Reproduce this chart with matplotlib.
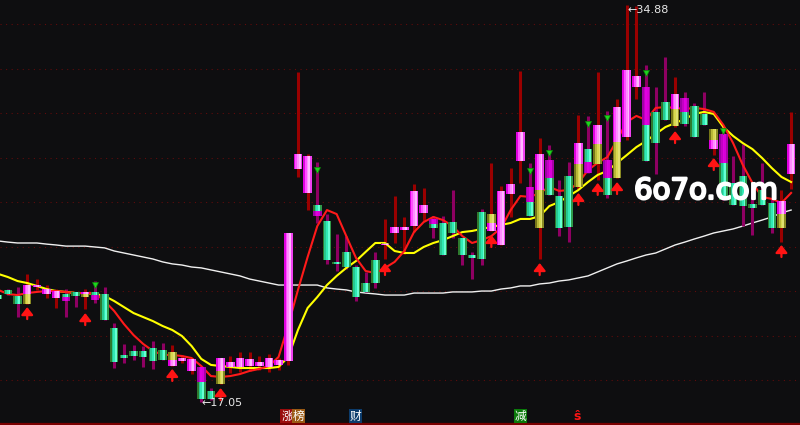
import numpy as np
import matplotlib
matplotlib.use('Agg')
import matplotlib.pyplot as plt
import matplotlib.patheffects as pe
from matplotlib.patches import Rectangle
from matplotlib.collections import PatchCollection

BG = '#0e0e10'
nan = np.nan

# daily bars (price)
opens = [21.84, 22.07, 21.80, 21.44, 22.20, 21.89, 21.71, 21.89, 21.98, 21.75,
         21.98, 21.89, 20.36, 19.15, 19.33, 19.33, 19.46, 19.37, 18.65, 18.88,
         18.43, 18.61, 17.53, 17.84, 18.61, 18.61, 18.65, 18.65, 18.61, 18.70,
         18.88, 27.51, 26.43, 25.89, 25.17, 23.33, 23.78, 23.10, 22.38, 23.42,
         24.09, 24.63, 24.76, 24.94, 25.53, 25.26, 25.08, 25.12, 24.40, 23.64,
         25.57, 24.72, 24.09, 26.38, 27.87, 26.70, 24.85, 27.91, 26.29, 27.19,
         26.70, 28.40, 27.73, 27.91, 27.10, 28.94, 31.19, 31.19, 30.07, 30.52,
         29.44, 30.70, 30.34, 29.98, 28.40, 29.08, 26.88, 27.19, 25.93, 26.56,
         25.98, 24.85, 27.28]
closes = [21.66, 21.89, 21.44, 22.29, 22.29, 22.11, 22.02, 21.57, 21.80, 21.98,
          21.62, 20.72, 18.83, 19.01, 19.10, 19.06, 18.88, 18.92, 19.28, 19.01,
          18.97, 17.17, 17.17, 19.01, 18.83, 19.01, 18.97, 18.83, 19.01, 18.92,
          24.63, 28.18, 28.09, 25.39, 23.42, 23.24, 23.10, 21.75, 21.98, 22.38,
          24.18, 24.90, 24.90, 26.52, 25.89, 24.85, 23.64, 24.63, 23.64, 23.51,
          23.46, 25.48, 26.52, 26.83, 29.17, 25.39, 28.18, 26.34, 24.85, 24.90,
          28.67, 27.33, 29.48, 26.34, 30.29, 31.96, 31.69, 27.87, 28.67, 29.71,
          30.88, 29.53, 28.94, 29.48, 29.30, 26.11, 25.89, 25.84, 25.75, 25.89,
          24.85, 26.07, 28.63]
highs = [21.90, 22.11, 22.20, 22.79, 22.56, 22.29, 22.11, 22.11, 21.98, 22.11,
         22.47, 22.20, 20.58, 19.64, 19.60, 19.55, 19.78, 19.69, 19.60, 19.15,
         18.97, 18.61, 17.66, 19.01, 19.10, 19.28, 19.28, 19.10, 19.19, 19.01,
         24.63, 31.87, 28.18, 27.82, 25.48, 24.58, 24.49, 23.19, 22.88, 23.78,
         25.26, 26.29, 25.35, 26.83, 26.65, 25.39, 25.39, 26.56, 24.40, 23.78,
         25.71, 27.78, 26.74, 27.55, 31.91, 27.78, 28.90, 28.58, 27.01, 27.82,
         29.93, 29.89, 31.87, 30.11, 30.65, 34.88, 34.83, 32.18, 31.19, 32.54,
         31.64, 30.97, 30.47, 30.97, 29.30, 29.44, 28.09, 28.63, 26.65, 27.78,
         26.20, 26.56, 30.07]
lows = [21.60, 21.84, 20.85, 21.44, 22.07, 21.71, 21.26, 20.85, 21.30, 21.21,
        21.48, 20.72, 18.56, 18.79, 18.92, 18.61, 18.52, 18.92, 18.65, 18.79,
        18.29, 17.05, 17.12, 17.84, 18.34, 18.38, 18.43, 18.47, 18.38, 18.47,
        18.70, 27.15, 25.66, 25.08, 23.24, 22.92, 23.01, 21.57, 21.98, 22.16,
        23.46, 24.18, 23.69, 24.67, 25.17, 24.40, 23.64, 24.40, 23.19, 22.56,
        23.19, 24.72, 24.09, 25.35, 26.88, 25.39, 23.46, 26.34, 24.49, 24.22,
        26.61, 27.33, 27.01, 26.20, 27.10, 28.81, 30.65, 27.87, 27.28, 29.71,
        29.39, 29.44, 28.94, 29.48, 28.13, 26.11, 25.89, 24.94, 24.54, 25.89,
        24.63, 24.22, 26.61]
# where the two-colour bodies change colour
splits = [nan, nan, nan, 21.89, nan, nan, nan, 21.75, nan, 21.89,
          21.84, nan, nan, nan, nan, nan, nan, nan, 18.92, nan,
          nan, 17.93, nan, 18.43, nan, nan, nan, nan, nan, nan,
          nan, nan, nan, 25.62, nan, nan, nan, nan, nan, nan,
          24.13, nan, nan, nan, nan, 25.03, nan, nan, nan, nan,
          nan, 25.08, nan, nan, nan, 26.02, 26.56, 27.10, nan, nan,
          27.73, 27.82, 28.63, 27.10, 28.72, nan, nan, 29.48, nan, nan,
          30.20, 30.07, nan, nan, 28.81, 27.78, nan, nan, nan, nan,
          nan, 25.48, nan]
# body colours, top part first
kinds = ['c', 'c', 'c', 'py', 'p', 'p', 'p', 'cm', 'c', 'py',
         'cm', 'c', 'c', 'c', 'c', 'c', 'c', 'c', 'yp', 'p',
         'p', 'mc', 'c', 'py', 'p', 'p', 'p', 'p', 'p', 'p',
         'p', 'p', 'p', 'cm', 'c', 'c', 'c', 'c', 'c', 'c',
         'yp', 'p', 'p', 'p', 'p', 'mc', 'c', 'c', 'c', 'c',
         'c', 'yp', 'p', 'p', 'p', 'mc', 'py', 'mc', 'c', 'c',
         'py', 'cm', 'py', 'mc', 'py', 'p', 'p', 'mc', 'c', 'c',
         'py', 'mc', 'c', 'c', 'yp', 'mc', 'c', 'c', 'c', 'c',
         'c', 'py', 'p']

ma_short = [22.07, 21.89, 21.84, 21.93, 21.98, 22.02, 22.02, 21.98, 21.93, 21.93,
            21.93, 21.57, 21.12, 20.54, 20.04, 19.64, 19.33, 19.15, 19.15, 19.10,
            19.01, 18.65, 18.20, 18.16, 18.20, 18.29, 18.43, 18.52, 18.65, 19.06,
            20.49, 22.07, 23.55, 24.94, 25.66, 25.48, 24.49, 23.51, 22.92, 22.83,
            23.06, 23.33, 23.82, 24.67, 25.12, 25.35, 25.21, 24.94, 24.49, 24.18,
            24.31, 24.49, 24.85, 25.66, 26.29, 26.25, 26.43, 26.70, 26.52, 26.56,
            26.88, 27.46, 27.78, 28.04, 28.81, 29.62, 29.89, 29.71, 30.25, 30.29,
            30.25, 30.20, 30.25, 30.20, 30.07, 29.48, 28.67, 27.69, 26.88, 26.25,
            26.16, 25.98, 26.43]
ma_mid = [22.79, 22.65, 22.47, 22.38, 22.25, 22.11, 22.02, 21.98, 21.93, 21.93,
          21.89, 21.80, 21.57, 21.30, 21.03, 20.85, 20.67, 20.45, 20.27, 20.00,
          19.55, 18.97, 18.70, 18.65, 18.61, 18.56, 18.56, 18.56, 18.56, 18.61,
          19.06, 20.27, 21.26, 21.75, 22.29, 22.70, 23.06, 23.37, 23.78, 24.18,
          24.18, 23.82, 23.73, 23.73, 24.00, 24.18, 24.31, 24.49, 24.67, 24.72,
          24.81, 24.90, 24.99, 25.08, 25.26, 25.26, 25.39, 25.84, 26.02, 26.29,
          26.56, 26.92, 27.24, 27.42, 27.78, 28.13, 28.49, 28.76, 29.08, 29.39,
          29.57, 29.75, 29.98, 30.07, 29.98, 29.39, 28.99, 28.67, 28.40, 28.00,
          27.55, 27.15, 26.92]
ma_long = [24.27, 24.22, 24.18, 24.18, 24.18, 24.13, 24.09, 24.04, 24.04, 24.04,
           24.00, 23.96, 23.82, 23.73, 23.64, 23.55, 23.46, 23.33, 23.24, 23.19,
           23.10, 23.06, 22.97, 22.88, 22.79, 22.70, 22.56, 22.47, 22.38, 22.29,
           22.29, 22.29, 22.29, 22.29, 22.16, 22.11, 22.07, 21.98, 21.93, 21.89,
           21.84, 21.84, 21.84, 21.93, 21.93, 21.93, 21.93, 21.98, 21.98, 21.98,
           22.02, 22.02, 22.11, 22.16, 22.25, 22.25, 22.34, 22.38, 22.47, 22.52,
           22.61, 22.70, 22.88, 23.06, 23.24, 23.37, 23.51, 23.64, 23.73, 23.91,
           24.09, 24.22, 24.36, 24.49, 24.63, 24.72, 24.81, 24.94, 25.08, 25.21,
           25.35, 25.53, 25.66]

# buy / sell signals
buy_idx = [3, 9, 18, 23, 40, 51, 56, 60, 62, 64, 70, 74, 81]
buy_tip = [21.30, 21.03, 18.52, 17.66, 23.28, 24.54, 23.28, 26.43, 26.88, 26.92,
           29.21, 28.00, 24.09]
sell_idx = [10, 33, 55, 57, 61, 63, 67, 75]
sell_pos = [22.29, 27.46, 27.42, 28.22, 29.53, 29.80, 31.82, 29.21]

PAL = {
    'p': ['#e000e0', '#ff50ff', '#ff8cff', '#ffb8ff', '#f040f0'],
    'm': ['#a000a8', '#c400c4', '#e000e0', '#d800d8', '#a800a8'],
    'c': ['#2e7a2e', '#28c890', '#30eab4', '#66ffd4', '#2f9a4a'],
    'y': ['#767618', '#b8b838', '#d8d850', '#e0e070', '#8a8a22'],
}

fig = plt.figure(figsize=(8, 4.25), dpi=100, facecolor=BG)
ax = fig.add_axes([0, 0, 1, 1])
ax.set_facecolor(BG)
ax.set_xlim(0.186, 82.92)
ax.set_ylim(16.0, 35.10)
ax.axis('off')

for g in range(18, 35, 2):
    ax.axhline(g, color='#5e0c0c', lw=0.8, ls=(0, (1, 4)), zorder=0)
ax.axhline(16.05, color='#7a0000', lw=1.6, zorder=0)

xs = np.arange(len(opens))
ax.plot(xs, ma_long, color='#f0f0f0', lw=1.0, zorder=1)

# wicks
up = np.array(closes) >= np.array(opens)
ax.vlines(xs, lows, highs, colors=np.where(up, '#9a0000', '#8e0062'),
          lw=2.2, zorder=2)

ax.plot(xs, ma_mid, color='#ffff00', lw=1.5, zorder=2.5)
ax.plot(xs, ma_short, color='#ff1a1a', lw=1.5, zorder=2.5)

# bodies, drawn as vertical stripes to imitate the shading
w = 0.88
rects, cols = [], []
for i in xs:
    top = max(opens[i], closes[i])
    bot = min(opens[i], closes[i])
    k = kinds[i]
    if len(k) == 1:
        segs = [(bot, top, k)]
    else:
        segs = [(splits[i], top, k[0]), (bot, splits[i], k[1])]
    for lo, hi, c in segs:
        h = max(hi - lo, 0.05)
        for s in range(5):
            rects.append(Rectangle((i - w / 2 + s * w / 5, lo), w / 5, h))
            cols.append(PAL[c][s])
ax.add_collection(PatchCollection(rects, facecolors=cols, edgecolors='none', zorder=3))

for i, t in zip(buy_idx, buy_tip):
    ax.annotate('', xy=(i, t), xytext=(i, t - 0.54),
                arrowprops=dict(arrowstyle='-|>,head_length=0.45,head_width=0.35',
                                color='#ff1414', lw=1.6, mutation_scale=10,
                                shrinkA=0, shrinkB=0), zorder=5)
ax.plot(sell_idx, sell_pos, 'v', color='#1ed41e', ms=5, mec='#0a8a0a', mew=0.5, zorder=5)

ax.text(65.05, 34.63, '\u219034.88', color='#e8e8e8', fontsize=8, va='center', ha='left', zorder=6)
ax.text(21.05, 17.0, '\u219017.05', color='#e8e8e8', fontsize=8, va='center', ha='left', zorder=6)

fig.text(706 / 800, 1 - 191 / 425, '6o7o.com', color='white', fontsize=21,
         ha='center', va='center', zorder=10,
         path_effects=[pe.withStroke(linewidth=1.6, foreground='white')])

cjk = ['Noto Sans CJK SC', 'DejaVu Sans']
tags = [(287, '涨', '#9a0c0c'), (298.5, '榜', '#9a5a14'),
        (355.5, '财', '#0c3c6c'), (520.5, '减', '#0a7a0a')]
for px, t, bg in tags:
    fig.text(px / 800, 1 - 416 / 425, t, color='white', fontsize=8.5, family=cjk,
             ha='center', va='center',
             bbox=dict(boxstyle='square,pad=0.08', fc=bg, ec='none'))
fig.text(577 / 800, 1 - 416 / 425, '\u015d', color='#ff1414', fontsize=9,
         fontweight='bold', ha='center', va='center')

fig.savefig('out.png', dpi=100, facecolor=BG)
